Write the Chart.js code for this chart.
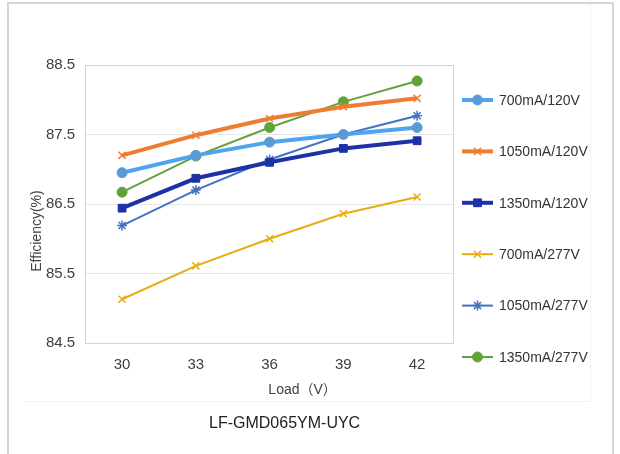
<!DOCTYPE html>
<html>
<head>
<meta charset="utf-8">
<script src="https://cdn.jsdelivr.net/npm/chart.js@4/dist/chart.umd.min.js"></script>
<style>
  body { margin: 0; background: #fff; }
  #wrap { position: relative; width: 620px; height: 454px; overflow: hidden; }
  #frame { position: absolute; left: 7px; top: 2px; width: 603px; height: 480px; border: 2px solid #d6d6d6; pointer-events: none; }
  #inner { position: absolute; left: 24px; top: -2px; width: 566px; height: 403px; border-right: 1px solid #f2f2f2; border-bottom: 1px solid #f2f2f2; pointer-events: none; }
</style>
</head>
<body>
<div id="wrap">
  <canvas id="effchart"></canvas>
  <div id="inner"></div>
  <div id="frame"></div>
</div>
<script>
var loads = ['30', '33', '36', '39', '42'];
var seriesNames = ['700mA/120V', '1050mA/120V', '1350mA/120V', '700mA/277V', '1050mA/277V', '1350mA/277V'];
var eff700_120 = [86.95, 87.20, 87.39, 87.50, 87.60];
var eff1050_120 = [87.20, 87.49, 87.73, 87.90, 88.02];
var eff1350_120 = [86.44, 86.87, 87.10, 87.30, 87.41];
var eff700_277 = [85.13, 85.61, 86.00, 86.36, 86.60];
var eff1050_277 = [86.19, 86.70, 87.14, 87.50, 87.77];
var eff1350_277 = [86.67, 87.19, 87.60, 87.97, 88.27];
var yMin = 84.5, yMax = 88.5, yStep = 1;

var xTitle = 'Load（V）';
var yTitle = 'Efficiency(%)';
var caption = 'LF-GMD065YM-UYC';

var fontFam = '"Liberation Sans", Arial, "Noto Sans CJK SC", sans-serif';
var textCol = '#404040';

function line(label, data, color, pointColor, width, style, radius) {
  return {
    label: label,
    data: data,
    borderColor: color,
    backgroundColor: pointColor,
    pointBackgroundColor: pointColor,
    pointBorderColor: pointColor,
    borderWidth: width,
    pointStyle: style,
    pointRadius: radius,
    pointBorderWidth: (style === 'circle' || style === 'rect') ? 1 : 1.5,
    tension: 0,
    fill: false
  };
}

// box around plot area
var plotBox = {
  id: 'plotBox',
  beforeDatasetsDraw: function(chart) {
    var a = chart.chartArea, ctx = chart.ctx;
    ctx.save();
    ctx.strokeStyle = '#d4d4d4';
    ctx.lineWidth = 1;
    ctx.strokeRect(Math.round(a.left) + 0.5, Math.round(a.top) + 0.5, Math.round(a.width) - 1, Math.round(a.height));
    ctx.restore();
  }
};

// axis titles, caption and the legend on the right (line + marker)
var extras = {
  id: 'extras',
  afterDraw: function(chart) {
    var a = chart.chartArea, ctx = chart.ctx;
    var mid = (a.left + a.right) / 2;
    ctx.save();
    ctx.fillStyle = textCol;
    ctx.textAlign = 'center';
    ctx.textBaseline = 'middle';
    ctx.font = '14px ' + fontFam;
    ctx.fillText(xTitle, mid + 33, a.bottom + 47);
    ctx.fillStyle = '#222';
    ctx.font = '16px ' + fontFam;
    ctx.fillText(caption, mid + 15, a.bottom + 81);
    ctx.save();
    ctx.fillStyle = textCol;
    ctx.font = '14px ' + fontFam;
    ctx.translate(a.left - 48, (a.top + a.bottom) / 2 + 27);
    ctx.rotate(-Math.PI / 2);
    ctx.fillText(yTitle, 0, 0);
    ctx.restore();

    // legend
    var n = chart.data.datasets.length, gap = 51.4, sw = 31;
    var x0 = a.right + 8;
    ctx.textAlign = 'left';
    ctx.font = '14px ' + fontFam;
    chart.data.datasets.forEach(function(ds, i) {
      var y = chart.height / 2 + 1.5 + (i - (n - 1) / 2) * gap;
      ctx.strokeStyle = ds.borderColor;
      ctx.lineWidth = ds.borderWidth;
      ctx.beginPath();
      ctx.moveTo(x0, y);
      ctx.lineTo(x0 + sw, y);
      ctx.stroke();
      ctx.fillStyle = ds.pointBackgroundColor;
      ctx.strokeStyle = ds.pointBorderColor;
      ctx.lineWidth = ds.pointBorderWidth;
      Chart.helpers.drawPoint(ctx, {pointStyle: ds.pointStyle, radius: ds.pointRadius, borderWidth: ds.pointBorderWidth, rotation: 0}, x0 + sw / 2, y);
      ctx.fillStyle = '#333';
      ctx.fillText(ds.label, x0 + sw + 6, y + 1);
    });
    ctx.restore();
  }
};

var effchart = document.getElementById('effchart');
var myChart = new Chart(effchart, {
  type: 'line',
  data: {
    labels: loads,
    datasets: [
      line(seriesNames[0], eff700_120, '#4ea4ef', '#5b9bd5', 4, 'circle', 5),
      line(seriesNames[1], eff1050_120, '#ed7d31', '#ed7d31', 4, 'crossRot', 5),
      line(seriesNames[2], eff1350_120, '#1e32a8', '#1e32a8', 4, 'rect', 5.5),
      line(seriesNames[3], eff700_277, '#e6ac12', '#e6ac12', 2, 'crossRot', 5),
      line(seriesNames[4], eff1050_277, '#4472c4', '#4472c4', 2, 'star', 5),
      line(seriesNames[5], eff1350_277, '#62a23b', '#62a23b', 2, 'circle', 5)
    ]
  },
  options: {
    responsive: true,
    maintainAspectRatio: false,
    animation: false,
    layout: { padding: { top: 65, bottom: 67, left: 36, right: 166 } },
    plugins: {
      legend: { display: false },
      title: { display: false },
      tooltip: { enabled: false }
    },
    scales: {
      x: {
        offset: true,
        grid: { display: false, drawTicks: false },
        border: { display: false },
        ticks: { color: textCol, padding: 13, font: { size: 15, family: fontFam } }
      },
      y: {
        min: yMin,
        max: yMax,
        grid: { color: '#e6e6e6', drawTicks: false },
        border: { display: false },
        ticks: {
          stepSize: yStep,
          color: textCol,
          padding: 10,
          font: { size: 15, family: fontFam },
          callback: function(v) { return v.toFixed(1); }
        }
      }
    }
  },
  plugins: [plotBox, extras]
});
</script>
</body>
</html>
